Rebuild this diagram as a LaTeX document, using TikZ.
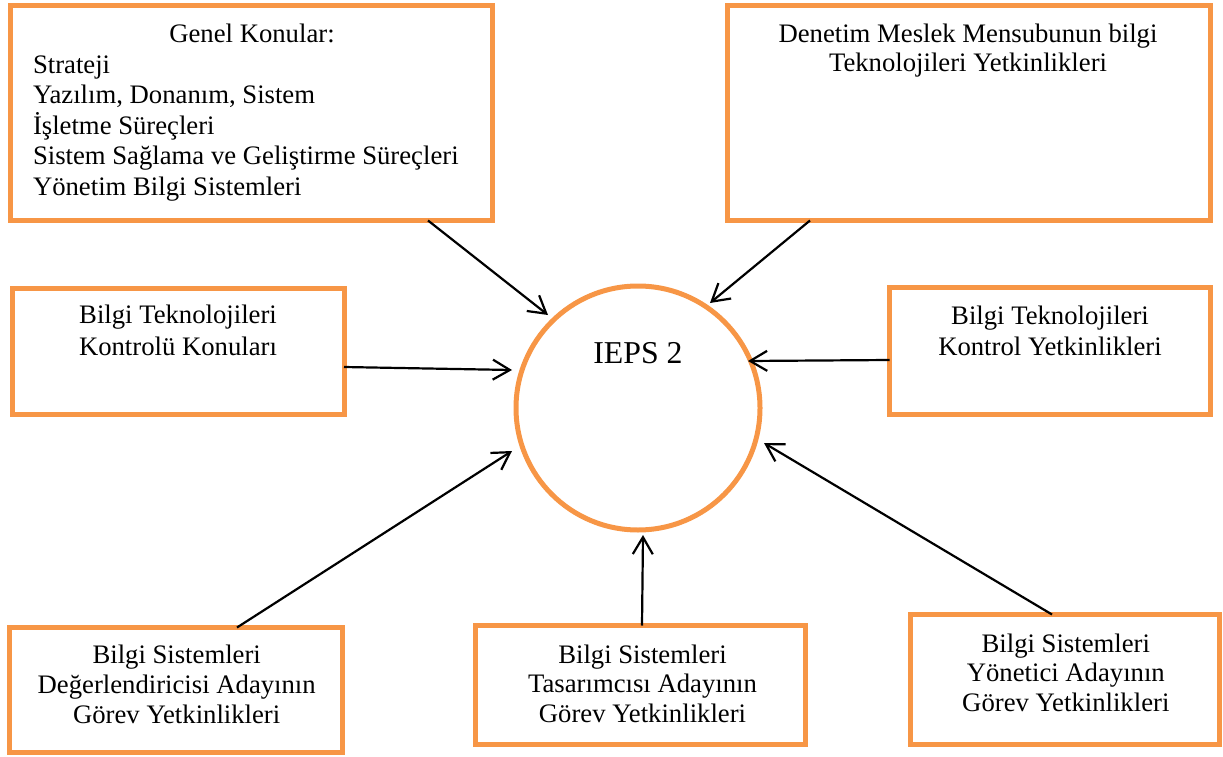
\documentclass[tikz,border=0pt]{standalone}
\usepackage{fontspec}
\setmainfont{Liberation Serif}
\usetikzlibrary{arrows.meta,calc}
\definecolor{boxorange}{HTML}{F79646}
\begin{document}
\begin{tikzpicture}[x=1pt,y=-1pt,
  frame/.style={draw=boxorange, line width=5pt, inner sep=0pt, outer sep=0pt, fill=white},
  hub/.style={circle, draw=boxorange, line width=5pt, inner sep=0pt, outer sep=0pt, minimum size=244pt},
  txt/.style={inner sep=0pt, outer sep=0pt, align=center, font=\fontsize{26.7}{#1}\selectfont},
  txt/.default=30,
  feed/.style={draw=black, line width=2.2pt, -{Straight Barb[length=17pt,width=20pt]}}
]
\useasboundingbox (0,0) rectangle (1223,757);

% boxes
\node[frame, minimum width=482pt, minimum height=215pt] (b1) at (251.5,113) {};
\node[frame, minimum width=483pt, minimum height=215pt] (b2) at (969,113) {};
\node[frame, minimum width=332pt, minimum height=126pt] (b3) at (178,351) {};
\node[frame, minimum width=321pt, minimum height=127pt] (b4) at (1050,351) {};
\node[frame, minimum width=332.5pt, minimum height=124.5pt] (b5) at (175.75,689.75) {};
\node[frame, minimum width=330pt, minimum height=119pt] (b6) at (640.5,685) {};
\node[frame, minimum width=309pt, minimum height=130pt] (b7) at (1065,679.5) {};

% central circle
\node[hub] (c) at (638,408) {};
\node[inner sep=0pt, font=\fontsize{31.8}{38}\selectfont, anchor=base] (ct) at (638,363) {IEPS 2};

% box texts
\node[txt, anchor=base] (t1a) at (252,43) {Genel Konular:};
\node[txt=30.5, align=left, anchor=north west] (t1b) at (33,51.65)
  {\strut Strateji\\Yazılım, Donanım, Sistem\\İşletme Süreçleri\\Sistem Sağlama ve Geliştirme Süreçleri\\Yönetim Bilgi Sistemleri};
\node[txt=29, anchor=north] (t2) at (968,22.7)
  {\strut Denetim Meslek Mensubunun bilgi\\Teknolojileri Yetkinlikleri};
\node[txt=32, anchor=north] (t3) at (178,300.6)
  {\strut Bilgi Teknolojileri\\Kontrolü Konuları};
\node[txt=31, anchor=north] (t4) at (1050,302.3)
  {\strut Bilgi Teknolojileri\\Kontrol Yetkinlikleri};
\node[txt=30, anchor=north] (t5) at (176.7,642)
  {\strut Bilgi Sistemleri\\Değerlendiricisi Adayının\\Görev Yetkinlikleri};
\node[txt=29.5, anchor=north] (t6) at (642.5,642.35)
  {\strut Bilgi Sistemleri\\Tasarımcısı Adayının\\Görev Yetkinlikleri};
\node[txt=29.5, anchor=north] (t7) at (1065.8,631.35)
  {\strut Bilgi Sistemleri\\Yönetici Adayının\\Görev Yetkinlikleri};

% connectors into the circle
\draw[feed] ($(b1.south)+(176.5,0)$) -- ($(c.center)+(-90,-93)$);
\draw[feed] ($(b2.south)+(-159,0)$) -- ($(c.center)+(72,-105)$);
\draw[feed] ($(b3.east)+(0,16)$) -- ($(c.center)+(-126,-38)$);
\draw[feed] ($(b4.west)+(0,9)$) -- ($(c.center)+(110,-47)$);
\draw[feed] ($(b5.north)+(61.25,0)$) -- ($(c.center)+(-126,43)$);
\draw[feed] ($(b6.north)+(1.5,0)$) -- ($(c.center)+(5,127)$);
\draw[feed] ($(b7.north)+(-13,0)$) -- ($(c.center)+(126,35)$);
\end{tikzpicture}
\end{document}
